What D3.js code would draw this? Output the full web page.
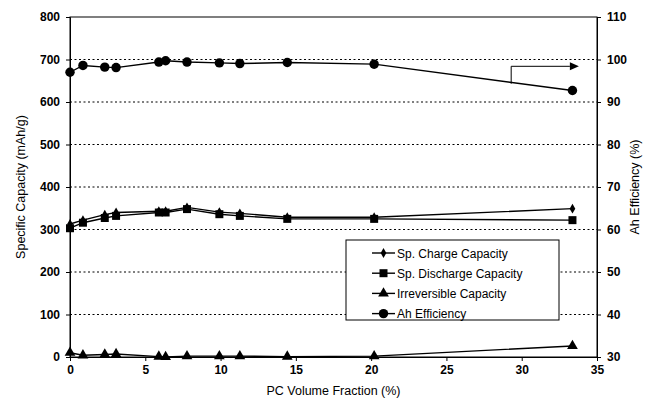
<!DOCTYPE html>
<html><head><meta charset="utf-8">
<script src="https://cdn.jsdelivr.net/npm/d3@7"></script>
<style>body{margin:0;background:#fff}svg{display:block}text{font-family:"Liberation Sans",Arial,sans-serif;fill:#000}</style>
</head><body>
<svg id="c" width="650" height="404"></svg>
<script>
const pcFraction = [0, 0.86, 2.31, 3.06, 5.9, 6.35, 7.77, 9.92, 11.28, 14.43, 20.2, 33.37];
const chargeCap = [313, 322, 335, 340, 343, 343, 352, 341, 338, 329, 329, 349];
const dischargeCap = [303, 316, 327, 332, 340, 340, 348, 336, 332, 325, 325, 322];
const irreversibleCap = [10, 4, 6, 7, 1, 0, 2, 2, 2, 1, 2, 26];
const ahEfficiency = [97.0, 98.6, 98.2, 98.1, 99.4, 99.7, 99.4, 99.2, 99.05, 99.3, 98.9, 92.7];
const xTicks = [0, 5, 10, 15, 20, 25, 30, 35];
const yLeftTicks = [0, 100, 200, 300, 400, 500, 600, 700, 800];
const yRightTicks = [30, 40, 50, 60, 70, 80, 90, 100, 110];
const seriesNames = ["Sp. Charge Capacity", "Sp. Discharge Capacity", "Irreversible Capacity", "Ah Efficiency"];

const svg = d3.select("#c");
const L = 70, R = 597, T = 17, B = 357;
const x = d3.scaleLinear().domain([0, 35]).range([L, R]);
const yL = d3.scaleLinear().domain([0, 800]).range([B, T]);
const yR = d3.scaleLinear().domain([30, 110]).range([B, T]);

// gridlines
svg.append("g").selectAll("line").data(yLeftTicks.filter(d => d > 0 && d < 800)).join("line")
  .attr("x1", L).attr("x2", R).attr("y1", d => yL(d)).attr("y2", d => yL(d))
  .attr("stroke", "#000").attr("stroke-width", 1).attr("stroke-dasharray", "2,2.5");

// frame
svg.append("rect").attr("x", L).attr("y", T).attr("width", R - L).attr("height", B - T)
  .attr("fill", "none").attr("stroke", "#000").attr("stroke-width", 1);

const fs = "12px";
const axL = svg.append("g").attr("transform", `translate(${L},0)`)
  .call(d3.axisLeft(yL).tickValues(yLeftTicks).tickSize(4).tickPadding(6));
const axR = svg.append("g").attr("transform", `translate(${R},0)`)
  .call(d3.axisRight(yR).tickValues(yRightTicks).tickSize(4).tickPadding(6));
const axB = svg.append("g").attr("transform", `translate(0,${B})`)
  .call(d3.axisBottom(x).tickValues(xTicks).tickSize(4).tickPadding(4));
[axL, axR, axB].forEach(a => {
  a.select(".domain").attr("stroke", "#000");
  a.selectAll("text").attr("font-size", fs).attr("font-family", "Liberation Sans, Arial, sans-serif").attr("font-weight", "bold").attr("fill", "#111");
});

// axis titles
svg.append("text").attr("transform", `translate(25,${(T + B) / 2}) rotate(-90)`)
  .attr("text-anchor", "middle").attr("font-size", "12.5px").text("Specific Capacity (mAh/g)");
svg.append("text").attr("transform", `translate(639,${(T + B) / 2}) rotate(-90)`)
  .attr("text-anchor", "middle").attr("font-size", "12.5px").text("Ah Efficiency (%)");
svg.append("text").attr("x", (L + R) / 2).attr("y", 395)
  .attr("text-anchor", "middle").attr("font-size", "12.5px").text("PC Volume Fraction (%)");

const symbols = [
  d3.symbol().type(d3.symbolDiamond).size(28),
  d3.symbol().type(d3.symbolSquare).size(64),
  d3.symbol().type(d3.symbolTriangle).size(50),
  d3.symbol().type(d3.symbolCircle).size(70)
];
const series = [
  { vals: chargeCap, y: yL },
  { vals: dischargeCap, y: yL },
  { vals: irreversibleCap, y: yL },
  { vals: ahEfficiency, y: yR }
];
series.forEach((s, i) => {
  const pts = pcFraction.map((d, j) => [x(d), s.y(s.vals[j])]);
  svg.append("path").attr("d", d3.line()(pts)).attr("fill", "none").attr("stroke", "#000").attr("stroke-width", 1.4);
  svg.append("g").selectAll("path").data(pts).join("path")
    .attr("transform", d => `translate(${d[0]},${d[1]})`).attr("d", symbols[i]()).attr("fill", "#000");
});

// arrow pointing to right axis
svg.append("path").attr("d", `M${x(29.3)},${yR(94.3)} V${yR(98.4)} H${x(33.2)}`)
  .attr("fill", "none").attr("stroke", "#000").attr("stroke-width", 1);
svg.append("path").attr("d", `M${x(33.2)},${yR(98.4) - 4} L${x(33.2) + 9},${yR(98.4)} L${x(33.2)},${yR(98.4) + 4}Z`).attr("fill", "#000");

// legend
const lg = svg.append("g");
lg.append("rect").attr("x", 346).attr("y", 240).attr("width", 213).attr("height", 80)
  .attr("fill", "#fff").attr("stroke", "#000").attr("stroke-width", 1);
seriesNames.forEach((n, i) => {
  const yy = 253 + i * 20.2;
  lg.append("line").attr("x1", 372).attr("x2", 395).attr("y1", yy).attr("y2", yy).attr("stroke", "#000").attr("stroke-width", 1.4);
  lg.append("path").attr("transform", `translate(383.5,${yy})`).attr("d", symbols[i]()).attr("fill", "#000");
  lg.append("text").attr("x", 397).attr("y", yy + 4.5).attr("font-size", fs).text(n);
});
</script>
</body></html>
